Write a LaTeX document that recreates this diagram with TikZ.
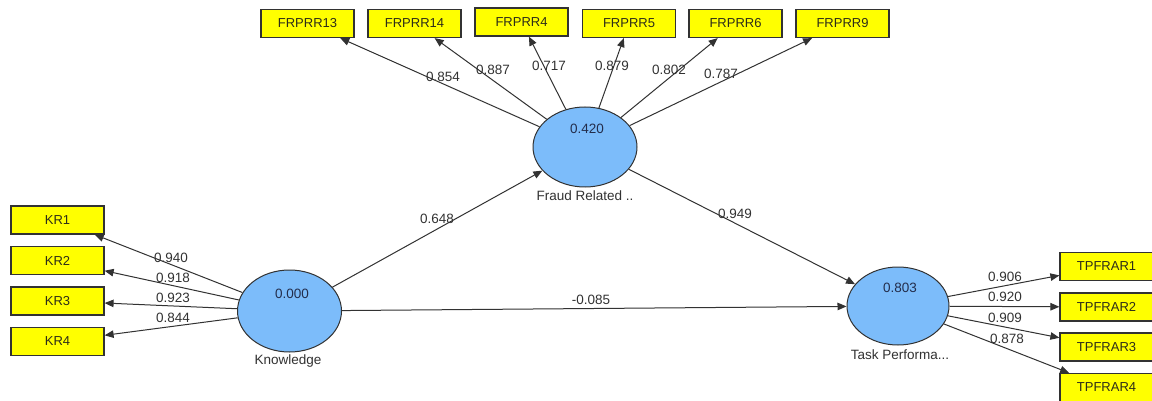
\documentclass[tikz,border=0pt]{standalone}
\usepackage{fontspec}
\setmainfont{Liberation Sans}
\usetikzlibrary{arrows.meta,shapes.geometric}
\definecolor{lvblue}{RGB}{124,188,250}
\definecolor{indyellow}{RGB}{255,255,0}
\definecolor{inkgray}{RGB}{50,50,50}
\definecolor{boxtext}{RGB}{45,45,25}
\definecolor{valblue}{RGB}{35,45,75}
\begin{document}
\begin{tikzpicture}[x=1pt,y=-1pt,
  indbox/.style={draw=inkgray, line width=1.2pt, fill=indyellow, minimum width=93pt, minimum height=28pt, inner sep=0pt, font=\fontsize{13}{15}\selectfont, text=boxtext},
  latent/.style={ellipse, draw=inkgray, line width=1pt, fill=lvblue, minimum width=104pt, minimum height=80pt, inner sep=0pt},
  conn/.style={draw=inkgray, line width=1pt, -{Triangle[length=9pt,width=7.5pt]}},
  lbl/.style={font=\fontsize{13.5}{15}\selectfont, text=inkgray, inner sep=0pt},
  vallbl/.style={font=\fontsize{13.5}{15}\selectfont, text=valblue, inner sep=0pt}
]
\useasboundingbox (0,0) rectangle (1152,401);
\fill[white] (0,0) rectangle (1152,401);

% latent variables
\node[latent] (fraud) at (585,147) {};
\node[latent, minimum height=82pt] (know) at (289.5,311) {};
\node[latent, minimum width=102pt, minimum height=78pt] (task) at (898,306) {};
\node[vallbl] (fraudval) at (587,129) {0.420};
\node[vallbl] (knowval) at (292,294) {0.000};
\node[vallbl] (taskval) at (900,288) {0.803};
\node[lbl] (fraudname) at (585,196) {Fraud Related ..};
\node[lbl] (knowname) at (288,361) {Knowledge};
\node[lbl] (taskname) at (900,355) {Task Performa...};

% indicators top
\node[indbox] (f13) at (307.5,23.5) {FRPRR13};
\node[indbox] (f14) at (414.5,23.5) {FRPRR14};
\node[indbox] (f4) at (521.5,22) {FRPRR4};
\node[indbox] (f5) at (629,23.5) {FRPRR5};
\node[indbox] (f6) at (735.5,23.5) {FRPRR6};
\node[indbox] (f9) at (842.5,23.5) {FRPRR9};

% indicators left
\node[indbox] (kr1) at (57.5,220) {KR1};
\node[indbox] (kr2) at (57.5,260.5) {KR2};
\node[indbox] (kr3) at (57.5,301) {KR3};
\node[indbox] (kr4) at (57.5,341.5) {KR4};

% indicators right
\node[indbox] (tp1) at (1106.5,266.5) {TPFRAR1};
\node[indbox] (tp2) at (1106.5,307) {TPFRAR2};
\node[indbox] (tp3) at (1106.5,347) {TPFRAR3};
\node[indbox] (tp4) at (1106.5,387.5) {TPFRAR4};

% loadings
\foreach \t in {f13,f14,f4,f5,f6,f9} \draw[conn] (fraud) -- (\t);
\foreach \t in {kr1,kr2,kr3,kr4} \draw[conn] (know) -- (\t);
\foreach \t in {tp1,tp2,tp3,tp4} \draw[conn] (task) -- (\t);

% structural paths
\draw[conn] (know) -- (fraud);
\draw[conn] (fraud) -- (task);
\draw[conn] (know) -- (task);

% loading labels
\node[lbl] (l13) at (443,76.5) {0.854};
\node[lbl] (l14) at (493,70) {0.887};
\node[lbl] (l4) at (549,66) {0.717};
\node[lbl] (l5) at (612,66) {0.879};
\node[lbl] (l6) at (669,70) {0.802};
\node[lbl] (l9) at (721,74) {0.787};

\node[lbl] (lk1) at (171,258) {0.940};
\node[lbl] (lk2) at (173,278) {0.918};
\node[lbl] (lk3) at (173,298) {0.923};
\node[lbl] (lk4) at (173,318) {0.844};

\node[lbl] (lt1) at (1005,277) {0.906};
\node[lbl] (lt2) at (1005,297) {0.920};
\node[lbl] (lt3) at (1005,318) {0.909};
\node[lbl] (lt4) at (1007,339) {0.878};

\node[lbl] (lkf) at (437,219) {0.648};
\node[lbl] (lft) at (735,214) {0.949};
\node[lbl] (lkt) at (591,300) {-0.085};
\end{tikzpicture}
\end{document}
